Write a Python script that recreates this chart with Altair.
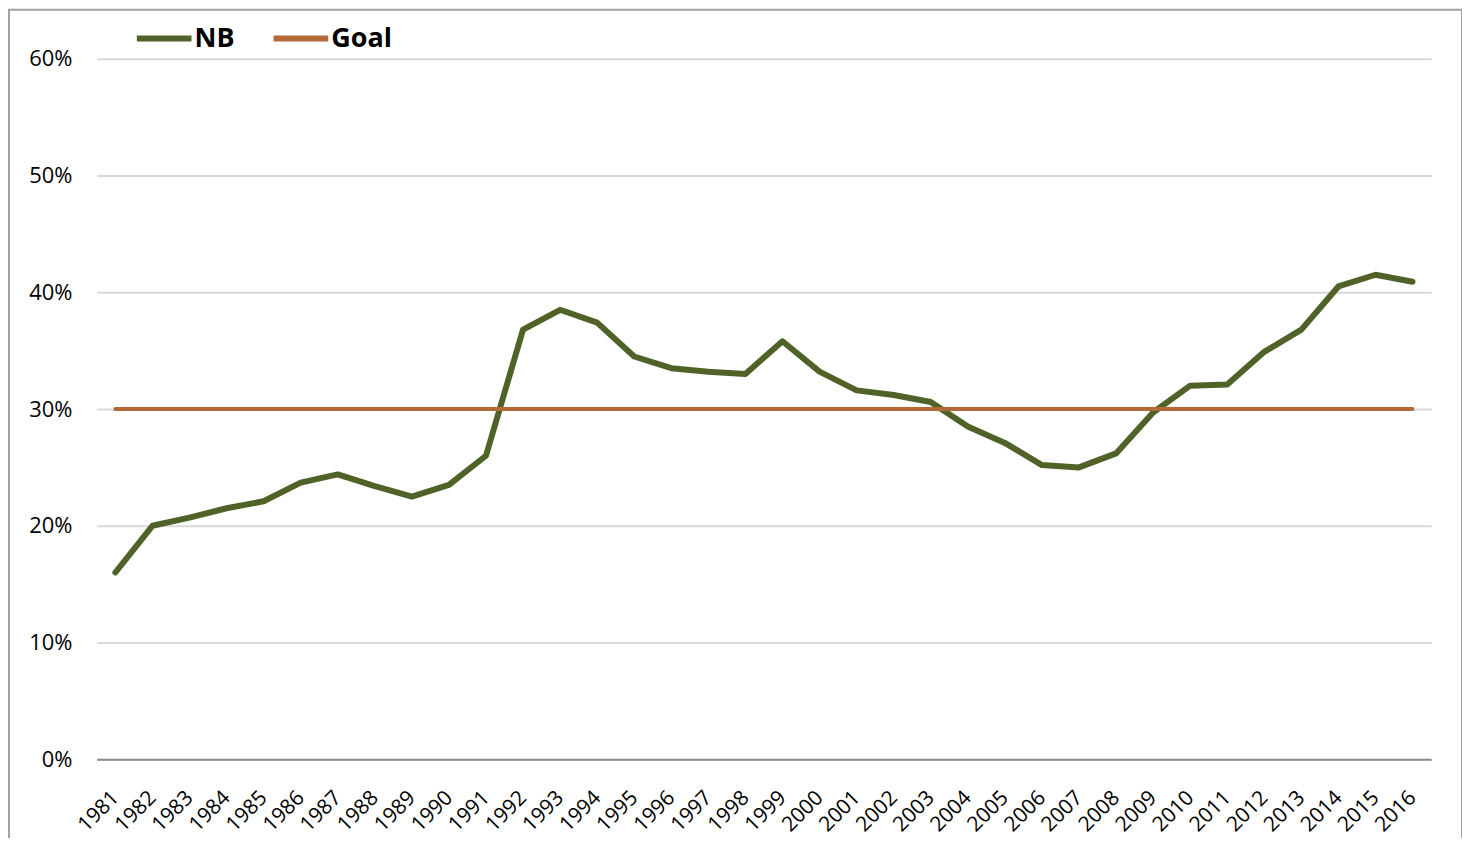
import altair as alt
import pandas as pd

years = [str(y) for y in range(1981, 2017)]
nb = [16.0, 20.0, 20.7, 21.5, 22.1, 23.7, 24.4, 23.4, 22.5, 23.5,
      26.0, 36.8, 38.5, 37.4, 34.5, 33.5, 33.2, 33.0, 35.8, 33.2,
      31.6, 31.2, 30.6, 28.5, 27.1, 25.2, 25.0, 26.2, 29.7, 32.0,
      32.1, 34.9, 36.8, 40.5, 41.5, 40.9]
goal = [30.0] * len(years)

series_names = ["NB", "Goal"]
series_colors = ["#4f6228", "#b46a36"]

rows = []
for y, v in zip(years, nb):
    rows.append({"year": y, "value": v / 100, "series": "NB"})
for y, v in zip(years, goal):
    rows.append({"year": y, "value": v / 100, "series": "Goal"})
df = pd.DataFrame(rows)

FONT = "Open Sans"
W, H = 1337, 702

x_enc = alt.X("year:N", sort=years,
              scale=alt.Scale(type="point", padding=0.5),
              axis=alt.Axis(title=None, labelAngle=-45, labelAlign="right",
                            labelBaseline="middle", labelFontSize=21,
                            labelFont=FONT, labelColor="#000000",
                            labelPadding=35, ticks=False, domain=True,
                            domainColor="#8c8c8c", domainWidth=2,
                            grid=False, labelOverlap=False))
y_enc = alt.Y("value:Q",
              scale=alt.Scale(domain=[0, 0.6], nice=False),
              axis=alt.Axis(title=None, format=".0%", values=[0, .1, .2, .3, .4, .5, .6],
                            labelFontSize=22, labelFont=FONT, labelColor="#000000",
                            labelPadding=25, ticks=False, domain=False,
                            grid=True, gridColor="#d9d9d9", gridWidth=2))

color = alt.Color("series:N",
                  scale=alt.Scale(domain=series_names, range=series_colors),
                  legend=alt.Legend(title=None, orient="none", legendX=37, legendY=-51,
                                    direction="horizontal", symbolType="stroke",
                                    symbolSize=3000, symbolStrokeWidth=6,
                                    labelFont=FONT, labelFontSize=27,
                                    labelFontWeight="bold", labelColor="#000000",
                                    labelOffset=0, columnPadding=26))

nb_line = alt.Chart(df).transform_filter(alt.datum.series == "NB").mark_line(
    strokeWidth=6, strokeCap="round", strokeJoin="round").encode(
    x=x_enc, y=y_enc, color=color)

goal_line = alt.Chart(df).transform_filter(alt.datum.series == "Goal").mark_line(
    strokeWidth=4, strokeCap="round").encode(
    x=x_enc, y=y_enc, color=color)

frame = alt.Chart(pd.DataFrame({"a": [0]})).mark_rect(
    fill=None, stroke="#a0a0a0", strokeWidth=2).encode(
    x=alt.value(-88), x2=alt.value(1368), y=alt.value(-49), y2=alt.value(H + 120))

chart = alt.layer(nb_line, goal_line, frame).properties(
    width=W, height=H,
    autosize=alt.AutoSizeParams(type="none"),
    padding={"left": 89, "top": 50, "right": 31, "bottom": 78},
).configure_view(stroke=None)

chart.save("out.html", embed_options={"renderer": "svg", "actions": False})
